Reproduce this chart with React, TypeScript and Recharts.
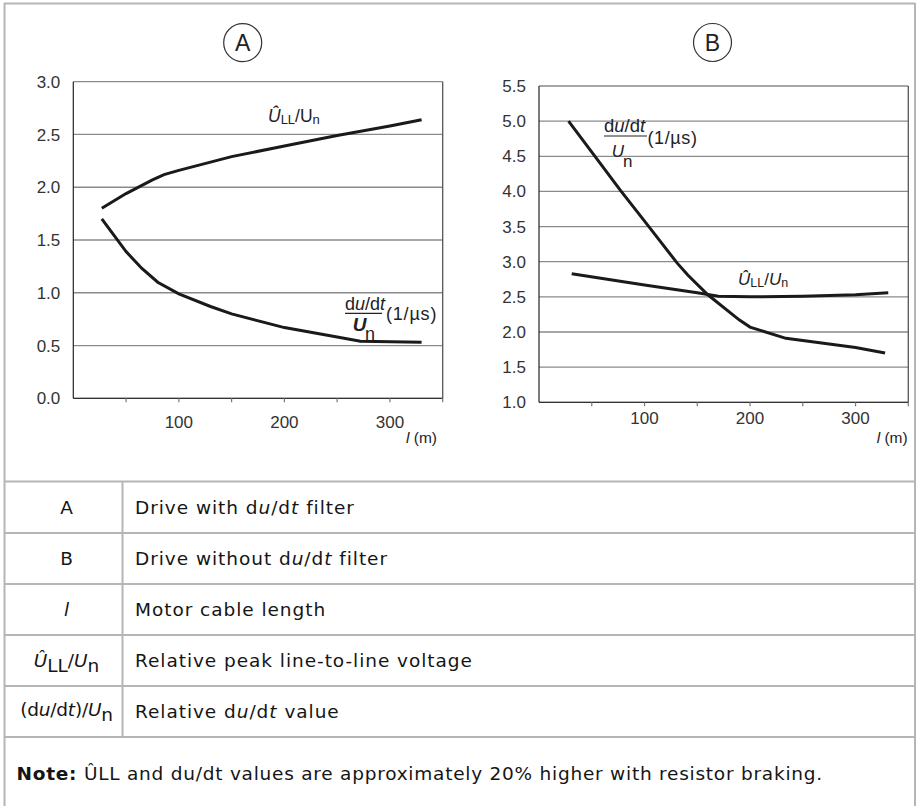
import React from "react";
import { LineChart, Line, XAxis, YAxis, CartesianGrid, ReferenceLine } from "recharts";

// ---- Data ----
const xTicks = [50, 100, 150, 200, 250, 300, 350];
const xLabelled = [100, 200, 300];

const aYTicks = [0, 0.5, 1.0, 1.5, 2.0, 2.5, 3.0];
const bYTicks = [1.0, 1.5, 2.0, 2.5, 3.0, 3.5, 4.0, 4.5, 5.0, 5.5];

// Chart A: drive with du/dt filter
const aUllX = [27, 50, 75, 86, 100, 150, 200, 250, 300, 330];
const aUllY = [1.8, 1.94, 2.07, 2.12, 2.16, 2.29, 2.39, 2.49, 2.58, 2.64];
const aDudtX = [27, 50, 65, 80, 100, 130, 150, 200, 250, 272, 330];
const aDudtY = [1.7, 1.39, 1.23, 1.1, 0.99, 0.87, 0.8, 0.67, 0.58, 0.54, 0.53];

// Chart B: drive without du/dt filter
const bDudtX = [28, 52, 77, 103, 131, 141, 160, 190, 200, 234, 300, 328];
const bDudtY = [5.0, 4.52, 4.02, 3.52, 2.98, 2.81, 2.53, 2.17, 2.07, 1.91, 1.78, 1.7];
const bUllX = [31, 100, 150, 170, 200, 250, 300, 331];
const bUllY = [2.83, 2.67, 2.56, 2.51, 2.5, 2.51, 2.53, 2.56];

const zip = (xs: number[], ys: number[]) => xs.map((x, i) => ({ x, y: ys[i] }));

const aUll = zip(aUllX, aUllY);
const aDudt = zip(aDudtX, aDudtY);
const bDudt = zip(bDudtX, bDudtY);
const bUll = zip(bUllX, bUllY);

const rowTexts = [
  "Drive with du/dt filter",
  "Drive without du/dt filter",
  "Motor cable length",
  "Relative peak line-to-line voltage",
  "Relative du/dt value",
];
const noteText = " ÛLL and du/dt values are approximately 20% higher with resistor braking.";

const chartFont = "'Liberation Sans', Arial, sans-serif";
const tableFont = "'DejaVu Sans', 'Open Sans', sans-serif";
const LINE = "#1a1a1a";
const GRID = "#8a8a8a";
const FRAME = "#b5b5b5";
const TXT = "#151515";
const TFS = 18.5;
const TLS = 0.95;

const tickStyle = { fontFamily: chartFont, fontSize: 17, fill: "#333" };

const fmtY = (v: number) => v.toFixed(1);
const fmtX = (v: number) => (xLabelled.includes(v) ? String(v) : "");

function Chart(props: {
  left: number;
  data1: { x: number; y: number }[];
  data2: { x: number; y: number }[];
  yDomain: [number, number];
  yTicks: number[];
  margin: { top: number; right: number; bottom: number; left: number };
  xTickMargin: number;
}) {
  return (
    <div style={{ position: "absolute", left: props.left, top: 0 }}>
      <LineChart width={460} height={440} margin={props.margin}>
        <CartesianGrid vertical={false} stroke={GRID} strokeWidth={1.3} />
        <XAxis
          type="number"
          dataKey="x"
          domain={[0, 350]}
          ticks={xTicks}
          tickFormatter={fmtX}
          allowDataOverflow
          height={30}
          tickSize={4}
          tickMargin={props.xTickMargin}
          tick={tickStyle}
          axisLine={{ stroke: "#333", strokeWidth: 1.2 }}
          tickLine={{ stroke: "#777", strokeWidth: 1.2 }}
          interval={0}
        />
        <YAxis
          type="number"
          domain={props.yDomain}
          ticks={props.yTicks}
          tickFormatter={fmtY}
          width={60}
          tickLine={false}
          tickSize={8}
          tickMargin={5}
          tick={tickStyle}
          axisLine={{ stroke: "#222", strokeWidth: 1.2 }}
          interval={0}
        />
        <ReferenceLine x={350} stroke="#555" strokeWidth={1.3} />
        <Line
          data={props.data1}
          dataKey="y"
          type="linear"
          stroke={LINE}
          strokeWidth={3}
          dot={false}
          isAnimationActive={false}
        />
        <Line
          data={props.data2}
          dataKey="y"
          type="linear"
          stroke={LINE}
          strokeWidth={3}
          dot={false}
          isAnimationActive={false}
        />
      </LineChart>
    </div>
  );
}

const rowLines = [481.5, 533, 584, 635, 686, 737];
const rowBase = [513.5, 565, 616, 667, 718];

// renders a string where "du/dt" gets italic u and t
function DuDt({ s }: { s: string }) {
  const idx = s.indexOf("du/dt");
  if (idx < 0) return <tspan>{s}</tspan>;
  return (
    <>
      <tspan>{s.slice(0, idx)}d</tspan>
      <tspan fontStyle="italic">u</tspan>
      <tspan>/d</tspan>
      <tspan fontStyle="italic">t</tspan>
      <tspan>{s.slice(idx + 5)}</tspan>
    </>
  );
}

export default function App() {
  return (
    <div
      style={{
        position: "absolute",
        left: 0,
        top: 0,
        width: 920,
        height: 806,
        background: "#fff",
        overflow: "hidden",
      }}
    >
      <Chart
        left={0}
        data1={aUll}
        data2={aDudt}
        yDomain={[0, 3]}
        yTicks={aYTicks}
        margin={{ top: 81.7, right: 17.3, bottom: 11.7, left: 13.3 }}
        xTickMargin={13.4}
      />
      <Chart
        left={460}
        data1={bDudt}
        data2={bUll}
        yDomain={[1, 5.5]}
        yTicks={bYTicks}
        margin={{ top: 86, right: 11.7, bottom: 7.7, left: 19 }}
        xTickMargin={6}
      />
      <svg
        width={920}
        height={806}
        style={{ position: "absolute", left: 0, top: 0, pointerEvents: "none" }}
      >
        {/* frame */}
        <line x1={4.5} y1={3} x2={4.5} y2={806} stroke={FRAME} strokeWidth={2} />
        <line x1={915} y1={3} x2={915} y2={806} stroke={FRAME} strokeWidth={2} />
        <line x1={4} y1={3.5} x2={915} y2={3.5} stroke={FRAME} strokeWidth={2} />
        {rowLines.map((y) => (
          <line key={y} x1={4} y1={y} x2={915} y2={y} stroke={FRAME} strokeWidth={2} />
        ))}
        <line x1={122.5} y1={481.5} x2={122.5} y2={737} stroke={FRAME} strokeWidth={2} />

        {/* circled labels */}
        <circle cx={242.7} cy={42.7} r={19} fill="none" stroke="#333" strokeWidth={1.2} />
        <text x={242.7} y={51} textAnchor="middle" fontFamily={chartFont} fontSize={23} fill="#222">
          A
        </text>
        <circle cx={712.5} cy={42.5} r={19} fill="none" stroke="#333" strokeWidth={1.2} />
        <text x={712.5} y={50.8} textAnchor="middle" fontFamily={chartFont} fontSize={23} fill="#222">
          B
        </text>

        {/* chart A annotations */}
        <text x={268} y={121.7} fontFamily={chartFont} fontSize={17.5} fill="#222">
          <tspan fontStyle="italic">Û</tspan>
          <tspan fontSize={13} dy={2}>LL</tspan>
          <tspan dy={-2}>/U</tspan>
          <tspan fontSize={13} dy={2}>n</tspan>
        </text>
        <text x={345} y={310} fontFamily={chartFont} fontSize={18} fill="#222">
          <tspan>d</tspan>
          <tspan fontStyle="italic">u</tspan>
          <tspan>/d</tspan>
          <tspan fontStyle="italic">t</tspan>
        </text>
        <line x1={345} y1={313.3} x2={382} y2={313.3} stroke="#222" strokeWidth={1.2} />
        <text x={386} y={320} fontFamily={chartFont} fontSize={18} letterSpacing={0.8} fill="#222">
          (1/µs)
        </text>
        <text x={352.7} y={330.7} fontFamily={chartFont} fontSize={19} fontWeight="bold" fontStyle="italic" fill="#222">
          U
        </text>
        <text x={365} y={340} fontFamily={chartFont} fontSize={18} fill="#222">
          n
        </text>
        <text x={406} y={443} fontFamily={chartFont} fontSize={15.5} fill="#222">
          <tspan fontStyle="italic">l</tspan>
          <tspan> (m)</tspan>
        </text>

        {/* chart B annotations */}
        <text x={604} y={132.3} fontFamily={chartFont} fontSize={18.5} fill="#222">
          <tspan>d</tspan>
          <tspan fontStyle="italic">u</tspan>
          <tspan>/d</tspan>
          <tspan fontStyle="italic">t</tspan>
        </text>
        <line x1={604} y1={136} x2={647} y2={136} stroke="#222" strokeWidth={1.2} />
        <text x={647.5} y={144} fontFamily={chartFont} fontSize={18} letterSpacing={0.6} fill="#222">
          (1/µs)
        </text>
        <text x={611.7} y={157} fontFamily={chartFont} fontSize={17} fontStyle="italic" fill="#222">
          U
        </text>
        <text x={623} y={166.5} fontFamily={chartFont} fontSize={17} fill="#222">
          n
        </text>
        <text x={738} y={285} fontFamily={chartFont} fontSize={17} fill="#222">
          <tspan fontStyle="italic">Û</tspan>
          <tspan fontSize={12.5} dy={2}>LL</tspan>
          <tspan dy={-2}>/</tspan>
          <tspan fontStyle="italic">U</tspan>
          <tspan fontSize={12.5} dy={2}>n</tspan>
        </text>
        <text x={876.7} y={443} fontFamily={chartFont} fontSize={15.5} fill="#222">
          <tspan fontStyle="italic">l</tspan>
          <tspan> (m)</tspan>
        </text>

        {/* table: first column */}
        <g fontFamily={tableFont} fontSize={TFS} fill={TXT}>
          <text x={66.5} y={rowBase[0]} textAnchor="middle">A</text>
          <text x={66.5} y={rowBase[1]} textAnchor="middle">B</text>
          <text x={66.5} y={rowBase[2]} textAnchor="middle" fontStyle="italic">l</text>
          <text x={66.5} y={rowBase[3]} textAnchor="middle">
            <tspan fontStyle="italic">Û</tspan>
            <tspan dy={5}>LL</tspan>
            <tspan dy={-5}>/</tspan>
            <tspan fontStyle="italic">U</tspan>
            <tspan dy={5}>n</tspan>
          </text>
          <text x={66.5} y={rowBase[4] - 2} textAnchor="middle" letterSpacing={-0.2}>
            <tspan>(d</tspan>
            <tspan fontStyle="italic">u</tspan>
            <tspan>/d</tspan>
            <tspan fontStyle="italic">t</tspan>
            <tspan>)/</tspan>
            <tspan fontStyle="italic">U</tspan>
            <tspan dy={5}>n</tspan>
          </text>

          {/* table: second column */}
          {rowTexts.map((t, i) => (
            <text key={t} x={135} y={rowBase[i]} letterSpacing={TLS}>
              <DuDt s={t} />
            </text>
          ))}

          {/* note */}
          <text x={16.5} y={780} letterSpacing={0.76}>
            <tspan fontWeight="bold">Note:</tspan>
            <tspan>{noteText}</tspan>
          </text>
        </g>
      </svg>
    </div>
  );
}
